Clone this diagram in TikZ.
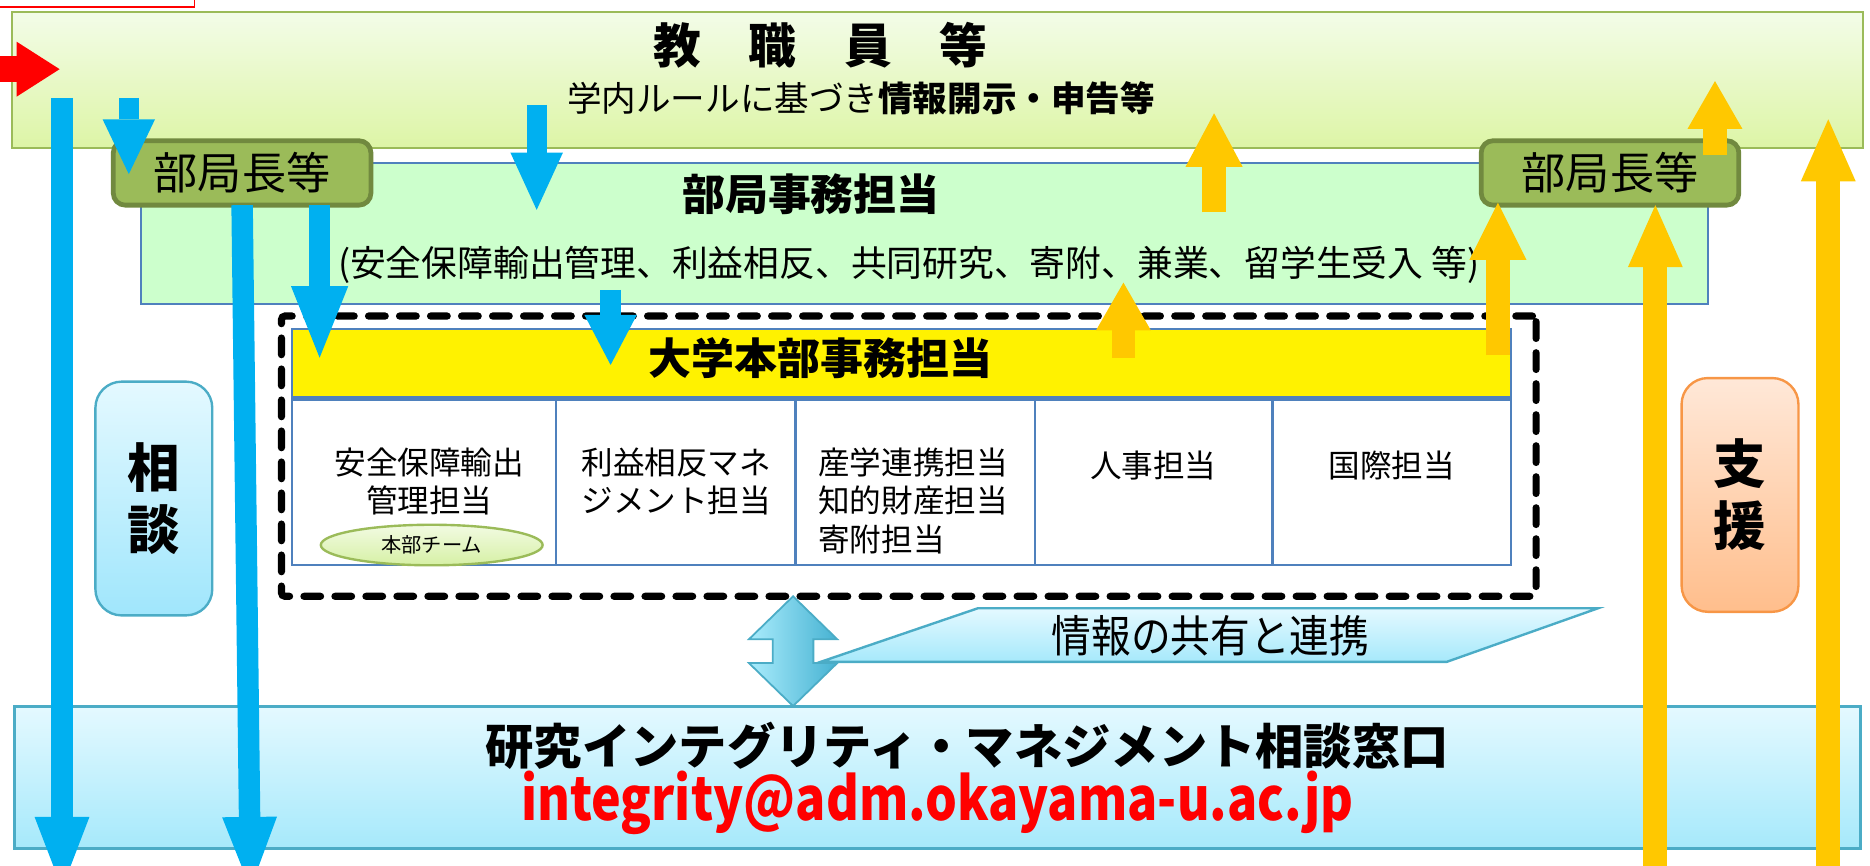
\documentclass[tikz,border=0pt]{standalone}
\usepackage{fontspec}
\usepackage{graphicx}
\setmainfont{Noto Sans CJK JP}
\usetikzlibrary{arrows.meta,shapes.geometric,shadings}
\definecolor{arrblue}{HTML}{00B0F0}
\definecolor{arryel}{HTML}{FFC800}
\definecolor{olivebd}{HTML}{9BBB59}
\definecolor{olivedk}{HTML}{71893F}
\definecolor{steel}{HTML}{4F81BD}
\definecolor{aqua}{HTML}{4BACC6}
\definecolor{orng}{HTML}{F79646}
\newcommand\fsz[2]{\fontsize{#1}{#2}\selectfont}
\tikzset{
  bluearr/.style n args={3}{draw=arrblue, line width=#1, -{Triangle[length=#2, width=#3, line width'=0pt]}},
  yelarr/.style n args={3}{draw=arryel, line width=#1, -{Triangle[length=#2, width=#3, line width'=0pt]}},
  headbox/.style={draw=olivedk, line width=4pt, fill=olivebd, rounded corners=10pt, minimum width=216pt, minimum height=54pt, inner sep=0pt, font=\fsz{37}{42}},
  cell/.style={draw=steel, line width=2pt, fill=white, minimum height=139pt, inner sep=0pt},
  celltext/.style={font=\fsz{26.5}{32}, align=center, inner sep=0pt},
  sidebox/.style={line width=2pt, rounded corners=22pt, minimum width=98pt, minimum height=196pt, inner sep=0pt, align=center, font=\fsz{44}{52}\bfseries},
}
\begin{document}
\begin{tikzpicture}[x=1pt,y=-1pt]
\useasboundingbox (0,0) rectangle (1568,726);
% red frame at top-left
\draw[red, line width=1.5pt] (-5,-5) rectangle (163,6);
% top box
\node[draw=olivebd, line width=2pt, top color={rgb,255:red,243;green,252;blue,232}, bottom color={rgb,255:red,221;green,245;blue,166}, minimum width=1552pt, minimum height=114pt, inner sep=0pt] (staff) at (786,67) {};
\node[font=\fsz{40}{48}\bfseries, inner sep=0pt] (staffT) at (688,38) {教\hspace{1em}職\hspace{1em}員\hspace{1em}等};
\node[font=\fsz{29}{34}, inner sep=0pt] (staffS) at (722,82) {学内ルールに基づき\textbf{情報開示・申告等}};
% department box
\node[draw=steel, line width=1.5pt, fill={rgb,255:red,204;green,255;blue,204}, minimum width=1314pt, minimum height=118pt, inner sep=0pt] (dept) at (775,196) {};
\node[font=\fsz{36}{42}\bfseries, inner sep=0pt] (deptT) at (680,163) {部局事務担当};
\node[font=\fsz{30}{34}, inner sep=0pt] (deptS) at (762,222) {(安全保障輸出管理、利益相反、共同研究、寄附、兼業、留学生受入 等)};
% heads of departments
\node[headbox] (hL) at (203,145) {部局長等};
\node[headbox] (hR) at (1350,145) {部局長等};
% headquarters dashed frame
\node[draw=black, line width=6pt, dash pattern=on 14pt off 12pt, line cap=round, rounded corners=3pt, minimum width=1052pt, minimum height=235pt, inner sep=0pt] (hq) at (762,382.5) {};
\node[draw=steel, line width=1.5pt, fill=yellow, minimum width=1022pt, minimum height=57pt, inner sep=0pt] (hqT) at (756,304.5) {};
\node[font=\fsz{36}{42}\bfseries, inner sep=0pt] (hqTT) at (688,300) {大学本部事務担当};
% table cells
\node[cell, minimum width=221pt] (c1) at (355.5,404.5) {};
\node[cell, minimum width=201pt] (c2) at (566.5,404.5) {};
\node[cell, minimum width=201pt] (c3) at (767.5,404.5) {};
\node[cell, minimum width=199pt] (c4) at (967.5,404.5) {};
\node[cell, minimum width=200pt] (c5) at (1167,404.5) {};
\node[celltext] (t1) at (360,404) {安全保障輸出\\管理担当};
\node[celltext, align=left] (t2) at (567,404) {利益相反マネ\\ジメント担当};
\node[celltext, align=left, anchor=west] (t3) at (686,420) {産学連携担当\\知的財産担当\\寄附担当};
\node[celltext] (t4) at (967,390) {人事担当};
\node[celltext] (t5) at (1167,390) {国際担当};
\node[ellipse, draw=olivebd, line width=2pt, top color={rgb,255:red,242;green,251;blue,226}, bottom color={rgb,255:red,214;green,240;blue,165}, minimum width=186pt, minimum height=34pt, inner sep=0pt, font=\fsz{17}{20}] (team) at (362,457) {本部チーム};
% side boxes
\node[sidebox, draw=aqua, top color={rgb,255:red,228;green,249;blue,255}, bottom color={rgb,255:red,160;green,230;blue,252}] (consult) at (129,418) {相\\談};
\node[sidebox, draw=orng, top color={rgb,255:red,255;green,232;blue,216}, bottom color={rgb,255:red,255;green,190;blue,140}] (support) at (1459,415) {支\\援};
% bottom desk
\node[draw=aqua, line width=2.5pt, top color={rgb,255:red,228;green,249;blue,255}, bottom color={rgb,255:red,166;green,233;blue,251}, minimum width=1548pt, minimum height=119pt, inner sep=0pt] (desk) at (786,652) {};
\node[font=\fsz{40.5}{48}\bfseries, inner sep=0pt] (deskT) at (811,625) {研究インテグリティ・マネジメント相談窓口};
\node[font=\fsz{50}{56}\bfseries, text=red, inner sep=0pt] (deskM) at (786,673) {\scalebox{0.84}[1]{integrity@adm.okayama-u.ac.jp}};
% double arrow
\shadedraw[draw=aqua, line width=1.5pt, left color={rgb,255:red,170;green,236;blue,252}, right color={rgb,255:red,70;green,178;blue,210}]
  (665,500) -- (702,536) -- (682,536) -- (682,556) -- (702,556) -- (665,592) -- (628,556) -- (648,556) -- (648,536) -- (628,536) -- cycle;
% parallelogram
\shadedraw[draw=aqua, line width=2pt, top color={rgb,255:red,228;green,249;blue,255}, bottom color={rgb,255:red,166;green,233;blue,251}]
  (820,510) -- (1340,510) -- (1213,555) -- (688,555) -- cycle;
\node[font=\fsz{37}{40}, inner sep=0pt] (share) at (1015,533) {\scalebox{0.9}[1]{情報の共有と連携}};
% coordinates for arrows
\coordinate (r1s) at (0,58);     \coordinate (r1e) at (50,58);
\coordinate (b1s) at (52,82);    \coordinate (b1e) at (52,745);
\coordinate (b2s) at (203,172);  \coordinate (b2e) at (210,745);
\coordinate (b3s) at (108,82);   \coordinate (b3e) at (108,146);
\coordinate (b4s) at (268,172);  \coordinate (b4e) at (268,300);
\coordinate (b5s) at (450,88);   \coordinate (b5e) at (450,176);
\coordinate (b6s) at (512,243);  \coordinate (b6e) at (512,306);
\coordinate (y1s) at (1018,178); \coordinate (y1e) at (1018,95);
\coordinate (y2s) at (942,300);  \coordinate (y2e) at (942,237);
\coordinate (y3s) at (1256,298); \coordinate (y3e) at (1256,170);
\coordinate (y4s) at (1438,130); \coordinate (y4e) at (1438,68);
\coordinate (y5s) at (1388,740); \coordinate (y5e) at (1388,172);
\coordinate (y6s) at (1533,740); \coordinate (y6e) at (1533,100);
% red arrow
\draw[draw=red, line width=22pt, -{Triangle[length=36pt, width=46pt, line width'=0pt]}] (r1s) -- (r1e);
% blue arrows
\draw[bluearr={18pt}{60pt}{46pt}] (b1s) -- (b1e);
\draw[bluearr={18pt}{60pt}{46pt}] (b2s) -- (b2e);
\draw[bluearr={17pt}{46pt}{44pt}] (b3s) -- (b3e);
\draw[bluearr={17pt}{60pt}{48pt}] (b4s) -- (b4e);
\draw[bluearr={17pt}{48pt}{44pt}] (b5s) -- (b5e);
\draw[bluearr={17pt}{42pt}{44pt}] (b6s) -- (b6e);
% yellow arrows
\draw[yelarr={20pt}{45pt}{48pt}] (y1s) -- (y1e);
\draw[yelarr={20pt}{40pt}{46pt}] (y2s) -- (y2e);
\draw[yelarr={20pt}{48pt}{48pt}] (y3s) -- (y3e);
\draw[yelarr={20pt}{40pt}{46pt}] (y4s) -- (y4e);
\draw[yelarr={20pt}{52pt}{46pt}] (y5s) -- (y5e);
\draw[yelarr={20pt}{52pt}{46pt}] (y6s) -- (y6e);
\end{tikzpicture}
\end{document}
